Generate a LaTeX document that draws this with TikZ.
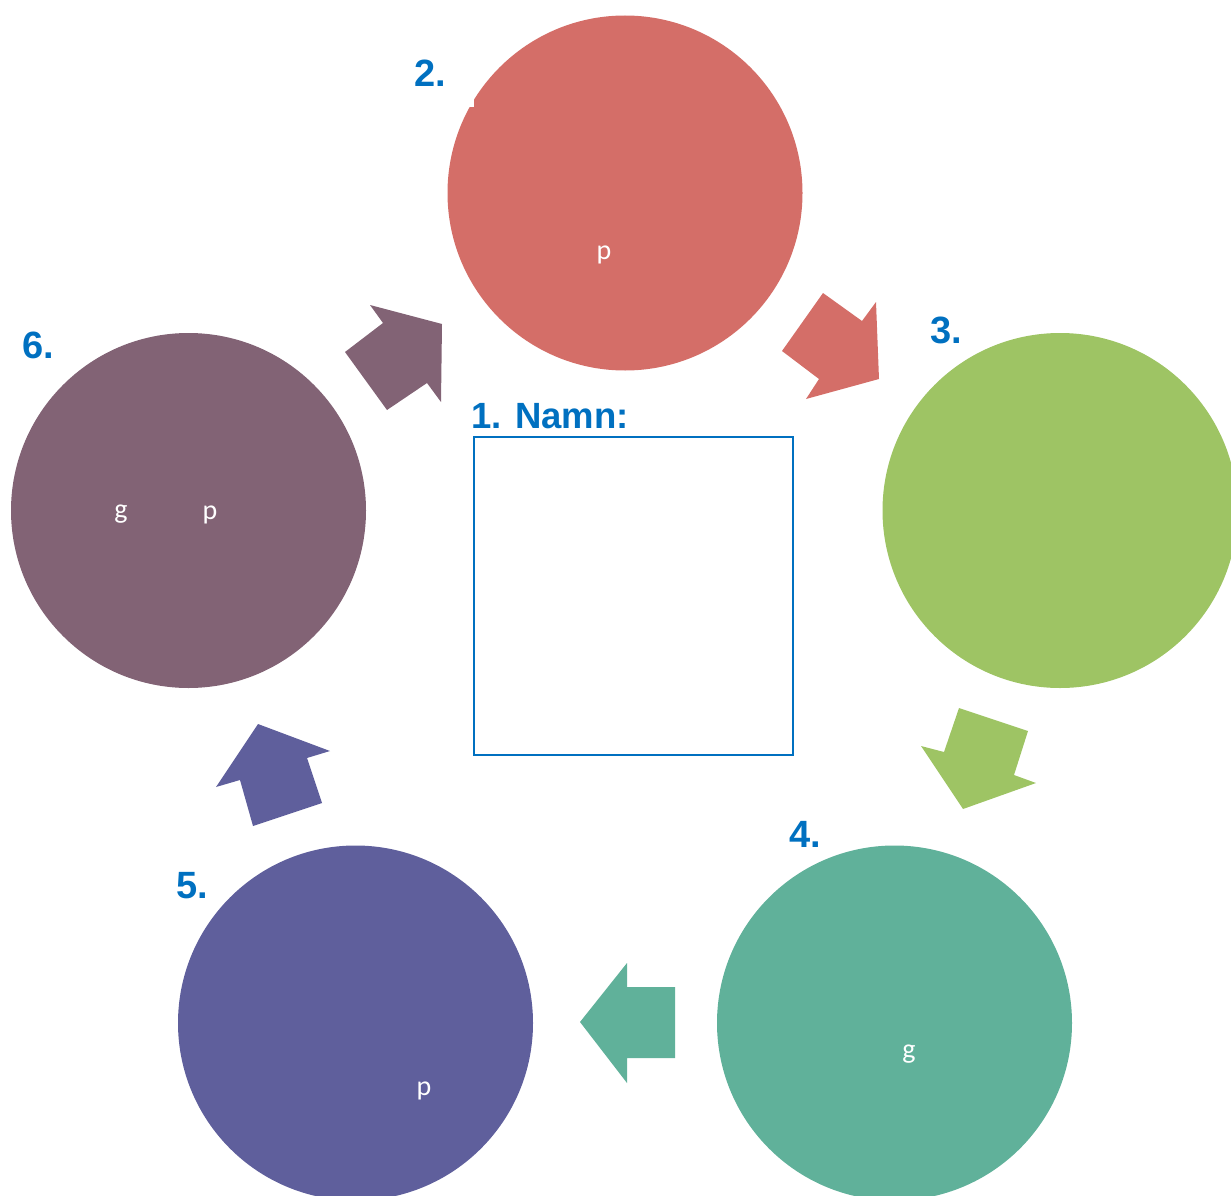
\documentclass[tikz,border=0pt]{standalone}
\usepackage{fontspec}
\setmainfont{Carlito}
\newfontfamily\labfont{Liberation Sans}
\definecolor{cred}{HTML}{D46E68}
\definecolor{cgreen}{HTML}{9EC464}
\definecolor{cteal}{HTML}{60B19A}
\definecolor{cpurple}{HTML}{5F5F9C}
\definecolor{cmauve}{HTML}{826375}
\definecolor{cblue}{HTML}{0070C0}
\tikzset{
  disc/.style={circle, minimum size=355pt, inner sep=0pt, draw=none},
  num/.style={anchor=base west, inner sep=0pt, text=cblue, font=\labfont\fontsize{38}{40}\selectfont\bfseries},
  title/.style={anchor=base west, inner sep=0pt, text=cblue, font=\labfont\fontsize{36.5}{38}\selectfont\bfseries},
  small/.style={anchor=base, inner sep=0pt, text=white, font=\fontsize{28}{30}\selectfont},
}
\begin{document}
\begin{tikzpicture}[x=1pt,y=-1pt]
\useasboundingbox (0,0) rectangle (1231,1196);
\clip (0,0) rectangle (1231,1196);
% circles
\node[disc, fill=cred] (c2) at (625,193) {};
\node[disc, fill=cgreen] (c3) at (1060,510.5) {};
\node[disc, fill=cteal] (c4) at (894.5,1023) {};
\node[disc, fill=cpurple] (c5) at (355.5,1023) {};
\node[disc, fill=cmauve] (c6) at (188.5,510.5) {};
\fill[white] (467,99) rectangle (474,107);
% block arrows
\fill[cred] (823,293) -- (862,321) -- (876,302) -- (879,379) -- (806,399) -- (819,379) -- (782,351) -- cycle;
\fill[cgreen] (959,708) -- (1028,731) -- (1014,775) -- (1036,783) -- (963,809) -- (921,746) -- (944,752) -- cycle;
\fill[cteal] (675,987) -- (627,987) -- (627,963) -- (580,1022) -- (627,1083) -- (627,1058) -- (675,1058) -- cycle;
\fill[cpurple] (258,724) -- (330,751) -- (307,758) -- (322,803) -- (253,826) -- (240,780) -- (216,787) -- cycle;
\fill[cmauve] (370,305) -- (442,324) -- (441,402) -- (427,383) -- (387,410) -- (345,352) -- (383,323) -- cycle;
% centre box
\node[draw=cblue, line width=2pt, minimum width=319pt, minimum height=318pt, inner sep=0pt] (box) at (633.5,596) {};
% labels
\node[title] (l1) at (471,428) {1. Namn:};
\node[num] (l2) at (414,87) {2.};
\node[num] (l3) at (930,343) {3.};
\node[num] (l4) at (789,847) {4.};
\node[num] (l5) at (176,898) {5.};
\node[num] (l6) at (22,358) {6.};
% small letters
\node[small] (t2) at (604,259) {p};
\node[small] (t6a) at (121,518) {g};
\node[small] (t6b) at (210,519) {p};
\node[small] (t4) at (909,1058) {g};
\node[small] (t5) at (424,1095) {p};
\end{tikzpicture}
\end{document}
